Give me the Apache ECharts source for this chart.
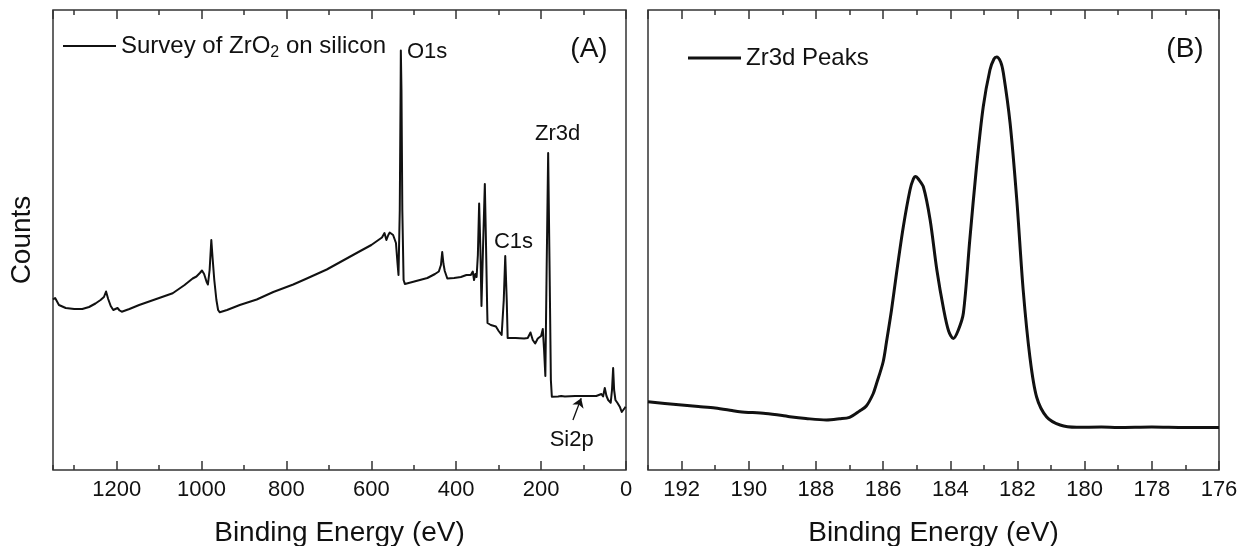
<!DOCTYPE html>
<html>
<head>
<meta charset="utf-8">
<script src="https://cdn.jsdelivr.net/npm/echarts@6.0.0/dist/echarts.min.js"></script>
<style>
html,body{margin:0;padding:0;background:#fff;}
#chart{width:1242px;height:546px;}
</style>
</head>
<body>
<div id="chart"></div>
<script>
// ---- Panel A: survey spectrum (binding energy in eV, counts in arbitrary units)
var surveyEnergy = [1350,1345,1336,1320,1300,1281,1265,1250,1238,1230,1225,1220,1214,1208,1203,1198,1193,1188,1170,1147,1110,1068,1040,1021,1012,1004,999,994,988,985,981,977,974,970,965,961,957,940,910,870,831,784,752,705,673,626,600,580,575,569,564.5,560,556.7,552,548.7,542,538,536,533,531,530.5,529,527,524,521,512,490,468,450,441,436,433,430,427,421,405,389,376,365.7,361,358,355,352,349,346,343,340.5,337,332.6,330,327,326.3,318.5,306.5,300,293,288,284.5,281,278.8,260,240,231.5,225,219.7,214,207.8,200,196,193,190,187,183.4,180,177,174.7,160,152.7,148,144,120,105,101,97,70,58,54,50,46,42,36,33,30.3,28,24.9,20,14.7,10,6.6,3,1];
var surveyCounts = [170.5,172,165,162,161,161,163,166.5,170,173,178.5,171,164,160,161,162,159.5,158.3,161,165,170.5,176.7,185,191.5,193.5,197,199.5,196,188,185.5,200,230,212,190,170,160,157.7,160,165,170.5,178,185.5,191.5,200.5,208,219,225,231,232.5,237,230,235,237.5,236.5,235,227,205,195,260,380,419.5,380,260,190,186,187,189.5,192,196,198.5,205,218,206,199,191.5,192,193,195,195,198.5,190,196,193,215,266.5,220,164,220,286,230,160,147,145,143.5,139,135,170,214,170,132,132,131.5,132,137.5,130,126.5,131.5,134,141,120,94,200,317,200,90,73.3,73.5,74,76,73.5,74,74,76,74,74,76,73.5,82,74,70,67.3,80,102,80,70,67,63.3,58,58.3,62,63.3];

// ---- Panel B: Zr3d high-resolution spectrum
var zrEnergy = [193,192.5,192,191.5,191,190.5,190.27,189.5,189,188.78,188.3,187.69,187.3,187,186.7,186.5,186.3,186.2,186,185.9,185.75,185.6,185.4,185.2,185.1,185.03,184.95,184.8,184.6,184.4,184.2,184.05,183.91,183.76,183.61,183.42,183.22,183.02,182.82,182.7,182.62,182.5,182.42,182.22,182.02,181.83,181.63,181.43,181.13,180.73,180.24,179.5,179,178,177,176];
var zrCounts = [68.3,66.5,65,63.5,62,59.5,58.3,56.5,54.5,53.3,51.5,50,51.2,52.7,59,64,76,86,108,128,160,197,243,280,291,293.5,291,283,250,200,161,139,131.5,140,157,230,303,363,400,411,413,408,397,347,270,180,113,73,53,45,42.7,43,42.5,43,42.5,42.5];

// ---- Annotations (energy, counts, text)
var surveyPeakLabels = [[468.7, 418, 'O1s'], [161, 336, 'Zr3d'], [265, 228, 'C1s'], [128, 30, 'Si2p']];
var si2pArrow = [[125, 50], [105.6, 71.7]];

var seriesNames = ['Survey of ZrO2 on silicon', 'Zr3d Peaks'];
var axisTitles = {x: 'Binding Energy (eV)', y: 'Counts'};
var panelLabels = ['(A)', '(B)'];

function zip(a, b) { return a.map(function (v, i) { return [v, b[i]]; }); }

var FONT = "'Liberation Sans', Arial, Helvetica, sans-serif";
var INK = '#111';
var FRAME = '#333';

function xAxes(grid, min, max, major, minor, withTitle) {
  var base = {
    gridIndex: grid, type: 'value', min: min, max: max, inverse: true,
    axisLine: {show: false}, splitLine: {show: false}
  };
  function mk(pos, interval, len, labels) {
    var a = Object.assign({}, base, {
      position: pos, interval: interval,
      axisTick: {show: true, inside: true, length: len, lineStyle: {color: FRAME, width: 1.5}},
      axisLabel: {show: labels, fontSize: 22, color: INK, fontFamily: FONT, margin: 9, showMaxLabel: false,
        formatter: function (v) { return String(v); }}
    });
    if (labels && withTitle) {
      a.name = axisTitles.x;
      a.nameLocation = 'middle';
      a.nameGap = 49;
      a.nameTextStyle = {fontSize: 28, color: INK, fontFamily: FONT};
    }
    return a;
  }
  return [mk('bottom', major, 9, true), mk('bottom', minor, 5, false), mk('top', major, 9, false), mk('top', minor, 5, false)];
}

var chart = echarts.init(document.getElementById('chart'), null, {renderer: 'canvas'});
var option = {
  animation: false,
  backgroundColor: '#fff',
  grid: [
    {left: 53, top: 10, width: 573, height: 460, show: true, borderColor: FRAME, borderWidth: 1.5, backgroundColor: 'transparent',
     containLabel: false, outerBoundsMode: 'none'},
    {left: 648, top: 10, width: 571, height: 460, show: true, borderColor: FRAME, borderWidth: 1.5, backgroundColor: 'transparent',
     containLabel: false, outerBoundsMode: 'none'}
  ],
  xAxis: xAxes(0, 0, 1350, 200, 100, true).concat(xAxes(1, 176, 193, 2, 1, true)),
  yAxis: [
    {gridIndex: 0, type: 'value', min: 0, max: 460, axisLine: {show: false}, axisTick: {show: false}, axisLabel: {show: false}, splitLine: {show: false},
     name: axisTitles.y, nameLocation: 'middle', nameGap: 17, nameRotate: 90, nameTextStyle: {fontSize: 28, color: INK, fontFamily: FONT}},
    {gridIndex: 1, type: 'value', min: 0, max: 460, show: false}
  ],
  legend: [
    {data: [{name: seriesNames[0], icon: 'rect'}], left: 63, top: 34, itemWidth: 53, itemHeight: 2, padding: 0,
     itemStyle: {color: INK, borderWidth: 0},
     formatter: function () { return 'Survey of ZrO{sub|2} on silicon'; },
     textStyle: {fontSize: 24, color: INK, fontFamily: FONT,
       rich: {sub: {fontSize: 16, color: INK, fontFamily: FONT, padding: [14, 0, 0, 0]}}}},
    {data: [{name: seriesNames[1], icon: 'rect'}], left: 688, top: 46, itemWidth: 53, itemHeight: 3, padding: 0,
     itemStyle: {color: INK, borderWidth: 0},
     textStyle: {fontSize: 24, color: INK, fontFamily: FONT}}
  ],
  graphic: [
    {type: 'text', x: 589, y: 49, style: {text: panelLabels[0], fontSize: 28, fill: INK, fontFamily: FONT, textAlign: 'center', textVerticalAlign: 'middle'}},
    {type: 'text', x: 1185, y: 49, style: {text: panelLabels[1], fontSize: 28, fill: INK, fontFamily: FONT, textAlign: 'center', textVerticalAlign: 'middle'}}
  ],
  series: [
    {name: seriesNames[0], type: 'line', xAxisIndex: 0, yAxisIndex: 0, data: zip(surveyEnergy, surveyCounts),
     symbol: 'none', lineStyle: {color: INK, width: 2, join: 'round'}, itemStyle: {color: INK},
     markLine: {silent: true, symbol: ['none', 'arrow'], symbolSize: 9, label: {show: false},
       lineStyle: {color: INK, width: 1.3, type: 'solid'},
       data: [[{coord: si2pArrow[0]}, {coord: si2pArrow[1]}]]}},
    {name: 'labels', type: 'scatter', xAxisIndex: 0, yAxisIndex: 0, data: surveyPeakLabels,
     symbolSize: 0, silent: true, itemStyle: {color: INK},
     label: {show: true, position: 'inside', formatter: function (p) { return p.value[2]; },
       fontSize: 22, color: INK, fontFamily: FONT, textBorderWidth: 0, opacity: 1}},
    {name: seriesNames[1], type: 'line', xAxisIndex: 4, yAxisIndex: 1, data: zip(zrEnergy, zrCounts),
     symbol: 'none', smooth: 0.3, lineStyle: {color: INK, width: 3, join: 'round'}, itemStyle: {color: INK}}
  ]
};
chart.setOption(option);
</script>
</body>
</html>
